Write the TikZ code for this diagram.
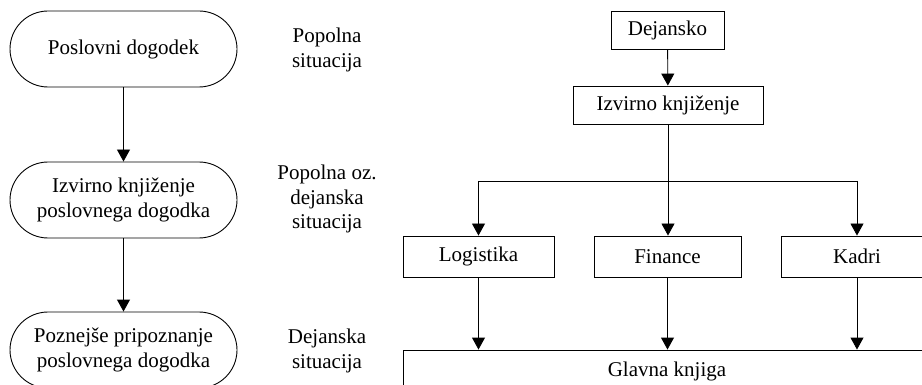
\documentclass[tikz,border=0pt]{standalone}
\usepackage{fontspec}
\setmainfont{Liberation Serif}
\usetikzlibrary{arrows.meta}
\begin{document}
\begin{tikzpicture}[x=1pt,y=-1pt,
  every node/.style={font=\fontsize{21}{24.5}\selectfont, align=center, inner sep=0pt},
  stadium/.style={draw, line width=0.9pt, rounded corners=38pt, minimum width=227pt, minimum height=76pt},
  boxnode/.style={draw, line width=0.9pt, minimum height=39pt},
  lbl/.style={},
  conn/.style={line width=0.9pt, -{Triangle[length=12pt,width=13pt]}},
  plain/.style={line width=0.9pt}]
\useasboundingbox (0,0) rectangle (922,385);
\clip (0,0) rectangle (922,385);
% left column
\node[stadium] (s1) at (123.5,49) {Poslovni dogodek};
\node[stadium] (s2) at (123.5,200) {Izvirno knjiženje\\poslovnega dogodka};
\node[stadium] (s3) at (123.5,350) {Poznejše pripoznanje\\poslovnega dogodka};
\draw[conn] (s1) -- (s2);
\draw[conn] (s2) -- (s3);
% labels
\node[lbl] (l1) at (327,50) {Popolna\\situacija};
\node[lbl] (l2) at (327,199) {Popolna oz.\\dejanska\\situacija};
\node[lbl] (l3) at (327,351) {Dejanska\\situacija};
% right
\node[boxnode, minimum width=113pt, minimum height=38pt] (dej) at (667.5,30) {Dejansko};
\node[boxnode, minimum width=190pt, minimum height=38pt] (izv) at (668,105) {Izvirno knjiženje};
\node[boxnode, minimum width=151pt, minimum height=41pt] (log) at (478.5,256.5) {Logistika};
\node[boxnode, minimum width=147pt, minimum height=41pt] (fin) at (667.5,256.5) {Finance};
\node[boxnode, minimum width=152pt, minimum height=41pt] (kad) at (857,256.5) {Kadri};
\node[boxnode, minimum width=528pt, minimum height=50pt] (gl) at (667,375) {};
\node (gltxt) at (667,371) {Glavna knjiga};
\coordinate (split) at (668,181);
\coordinate (sl) at (478.5,181);
\coordinate (sr) at (857,181);
\draw[conn] (dej) -- (izv);
\draw[plain] (izv) -- (split);
\draw[plain] (sl) -- (sr);
\draw[conn] (sl) -- (log);
\draw[conn] (split) -- (fin.north -| split);
\draw[conn] (sr) -- (kad);
\draw[conn] (log) -- (log.south |- gl.north);
\draw[conn] (fin) -- (fin.south |- gl.north);
\draw[conn] (kad) -- (kad.south |- gl.north);
\end{tikzpicture}
\end{document}
